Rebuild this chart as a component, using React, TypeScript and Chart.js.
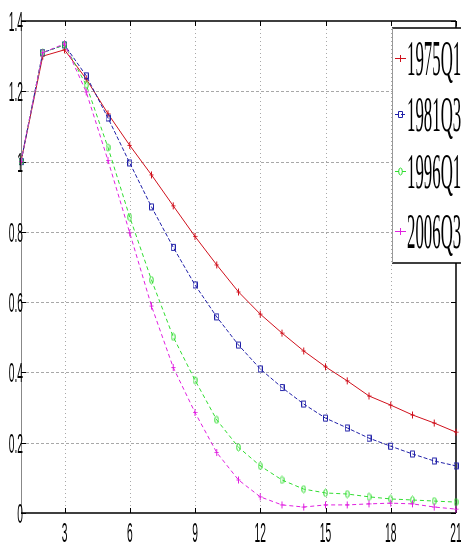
import React, { useEffect, useRef } from "react";
import { Chart, registerables } from "chart.js";

Chart.register(...registerables);

const periods = [1, 2, 3, 4, 5, 6, 7, 8, 9, 10, 11, 12, 13, 14, 15, 16, 17, 18, 19, 20, 21];
const seriesNames = ["1975Q1", "1981Q3", "1996Q1", "2006Q3"];
const s1975Q1 = [1.0, 1.30, 1.318, 1.235, 1.136, 1.046, 0.962, 0.874, 0.787, 0.706, 0.629, 0.566, 0.512, 0.461, 0.416, 0.376, 0.333, 0.307, 0.279, 0.256, 0.230];
const s1981Q3 = [1.0, 1.31, 1.332, 1.244, 1.124, 0.996, 0.871, 0.756, 0.649, 0.558, 0.478, 0.410, 0.357, 0.310, 0.270, 0.242, 0.213, 0.190, 0.168, 0.148, 0.134];
const s1996Q1 = [1.0, 1.31, 1.332, 1.218, 1.040, 0.842, 0.663, 0.501, 0.378, 0.265, 0.187, 0.134, 0.094, 0.068, 0.057, 0.054, 0.046, 0.040, 0.037, 0.034, 0.031];
const s2006Q3 = [1.0, 1.31, 1.335, 1.198, 1.003, 0.797, 0.589, 0.414, 0.286, 0.172, 0.094, 0.046, 0.023, 0.017, 0.023, 0.023, 0.026, 0.028, 0.026, 0.017, 0.011];
const xTicks = [3, 6, 9, 12, 15, 18, 21];
const xTickLabels = ["3", "6", "9", "12", "15", "18", "21"];
const yTicks = [0, 0.2, 0.4, 0.6, 0.8, 1, 1.2, 1.4];
const yTickLabels = ["0", "0.2", "0.4", "0.6", "0.8", "1", "1.2", "1.4"];

const colors = ["#d0101c", "#2020a8", "#30dd30", "#e020e0"];
const dashes: number[][] = [[], [4, 2], [4, 3], [4, 3]];
const markerKinds = ["plus", "rect", "oval", "plus"];

function makeMarker(kind: string, color: string): HTMLCanvasElement {
  const c = document.createElement("canvas");
  const w = 5, h = 9;
  c.width = w;
  c.height = h;
  const ctx = c.getContext("2d")!;
  ctx.strokeStyle = color;
  ctx.lineWidth = 1;
  const cx = w / 2, cy = h / 2;
  ctx.beginPath();
  if (kind === "plus") {
    ctx.moveTo(cx, 1); ctx.lineTo(cx, h - 1);
    ctx.moveTo(0.5, cy); ctx.lineTo(w - 0.5, cy);
  } else if (kind === "rect") {
    ctx.rect(0.5, 1.5, w - 1, h - 3);
  } else {
    ctx.ellipse(cx, cy, 1.8, 3.5, 0, 0, Math.PI * 2);
  }
  ctx.stroke();
  return c;
}

const decorPlugin = {
  id: "decor",
  beforeDatasetsDraw(chart: any) {
    const { ctx, chartArea } = chart;
    const xs = chart.scales.x;
    const ys = chart.scales.y;
    const { left, right, top, bottom } = chartArea;
    ctx.save();
    ctx.lineWidth = 1;
    ctx.strokeStyle = "#a8a8a8";
    ctx.setLineDash([3, 2]);
    yTicks.forEach((v) => {
      if (v <= 0 || v >= 1.4) return;
      const y = Math.round(ys.getPixelForValue(v)) + 0.5;
      ctx.beginPath();
      ctx.moveTo(left, y);
      ctx.lineTo(right, y);
      ctx.stroke();
    });
    ctx.setLineDash([1, 3]);
    xTicks.forEach((v) => {
      if (v >= 21) return;
      const x = Math.round(xs.getPixelForValue(v)) + 0.5;
      ctx.beginPath();
      ctx.moveTo(x, top);
      ctx.lineTo(x, bottom);
      ctx.stroke();
    });
    ctx.setLineDash([]);
    ctx.strokeStyle = "#888888";
    ctx.beginPath();
    ctx.moveTo(left + 0.5, top);
    ctx.lineTo(left + 0.5, bottom);
    ctx.stroke();
    ctx.strokeStyle = "#000000";
    ctx.lineWidth = 1.5;
    ctx.beginPath();
    ctx.moveTo(left, top);
    ctx.lineTo(right, top);
    ctx.moveTo(left, bottom);
    ctx.lineTo(right, bottom);
    ctx.moveTo(right, top);
    ctx.lineTo(right, bottom);
    ctx.stroke();
    ctx.lineWidth = 1;
    ctx.beginPath();
    yTicks.forEach((v) => {
      const y = Math.round(ys.getPixelForValue(v)) + 0.5;
      ctx.moveTo(left, y); ctx.lineTo(left + 5, y);
      ctx.moveTo(right, y); ctx.lineTo(right - 5, y);
    });
    xTicks.forEach((v) => {
      const x = Math.round(xs.getPixelForValue(v)) + 0.5;
      ctx.moveTo(x, bottom); ctx.lineTo(x, bottom - 5);
      ctx.moveTo(x, top); ctx.lineTo(x, top + 5);
    });
    ctx.stroke();
    ctx.restore();
  },
  afterDraw(chart: any) {
    const { ctx } = chart;
    const xs = chart.scales.x;
    const ys = chart.scales.y;
    ctx.save();
    const sx = 0.38;
    ctx.fillStyle = "#000";
    ctx.font = "27px 'Liberation Sans'";
    ctx.textBaseline = "alphabetic";
    ctx.textAlign = "right";
    yTicks.forEach((v, i) => {
      const y = ys.getPixelForValue(v);
      ctx.save();
      ctx.scale(sx, 1);
      ctx.fillText(yTickLabels[i], 23 / sx, y + 10);
      ctx.restore();
    });
    ctx.textAlign = "center";
    xTicks.forEach((v, i) => {
      const x = xs.getPixelForValue(v);
      ctx.save();
      ctx.scale(sx, 1);
      ctx.fillText(xTickLabels[i], x / sx, 542);
      ctx.restore();
    });
    const bx = 392, by = 28, bw = 80, bh = 235;
    ctx.fillStyle = "#ffffff";
    ctx.fillRect(bx, by, bw, bh);
    ctx.strokeStyle = "#000";
    ctx.lineWidth = 1.5;
    ctx.beginPath();
    ctx.moveTo(bx, by); ctx.lineTo(bx + bw, by);
    ctx.moveTo(bx, by + bh); ctx.lineTo(bx + bw, by + bh);
    ctx.stroke();
    ctx.strokeStyle = "#999";
    ctx.lineWidth = 1;
    ctx.beginPath();
    ctx.moveTo(bx + 0.5, by); ctx.lineTo(bx + 0.5, by + bh);
    ctx.stroke();
    const centers = [58, 114, 171, 231];
    const lsx = 0.33;
    chart.data.datasets.forEach((ds: any, i: number) => {
      const cy = centers[i];
      ctx.strokeStyle = ds.borderColor;
      ctx.lineWidth = 1;
      ctx.setLineDash(ds.borderDash || []);
      ctx.beginPath();
      ctx.moveTo(395, cy + 0.5);
      ctx.lineTo(406, cy + 0.5);
      ctx.stroke();
      ctx.setLineDash([]);
      const m = ds.pointStyle as HTMLCanvasElement;
      ctx.drawImage(m, 400.5 - m.width / 2, cy - m.height / 2 + 0.5);
      ctx.save();
      ctx.fillStyle = "#000";
      ctx.font = "51px 'Liberation Serif'";
      ctx.textAlign = "left";
      ctx.textBaseline = "alphabetic";
      ctx.scale(lsx, 1);
      ctx.fillText(ds.label, 407 / lsx, cy + 17);
      ctx.restore();
    });
    ctx.restore();
  },
};

export default function App() {
  const ref = useRef<HTMLCanvasElement | null>(null);
  useEffect(() => {
    document.body.style.margin = "0";
    const canvas = ref.current!;
    const all = [s1975Q1, s1981Q3, s1996Q1, s2006Q3];
    const datasets = all.map((vals, i) => ({
      label: seriesNames[i],
      data: periods.map((p, j) => ({ x: p, y: vals[j] })),
      borderColor: colors[i],
      backgroundColor: colors[i],
      borderWidth: 1,
      borderDash: dashes[i],
      pointStyle: makeMarker(markerKinds[i], colors[i]),
      pointRadius: 3,
      tension: 0,
      clip: false as any,
      order: 4 - i,
    }));
    const chart = new Chart(canvas, {
      type: "line",
      data: { datasets },
      options: {
        animation: false,
        responsive: false,
        devicePixelRatio: 1,
        layout: { padding: { left: 21, top: 21, right: 3, bottom: 31 } },
        plugins: { legend: { display: false }, tooltip: { enabled: false } },
        scales: {
          x: {
            type: "linear",
            min: 1,
            max: 21,
            grid: { display: false, drawTicks: false },
            border: { display: false },
            ticks: { display: false },
            afterBuildTicks: (s: any) => { s.ticks = xTicks.map((v) => ({ value: v })); },
            afterFit: (s: any) => { s.height = 0; },
          },
          y: {
            type: "linear",
            min: 0,
            max: 1.4,
            grid: { display: false, drawTicks: false },
            border: { display: false },
            ticks: { display: false },
            afterBuildTicks: (s: any) => { s.ticks = yTicks.map((v) => ({ value: v })); },
            afterFit: (s: any) => { s.width = 0; },
          },
        },
      },
      plugins: [decorPlugin],
    });
    return () => chart.destroy();
  }, []);
  return (
    <div style={{ width: 461, height: 544, background: "#fff" }}>
      <canvas ref={ref} width={461} height={544} style={{ display: "block" }} />
    </div>
  );
}
